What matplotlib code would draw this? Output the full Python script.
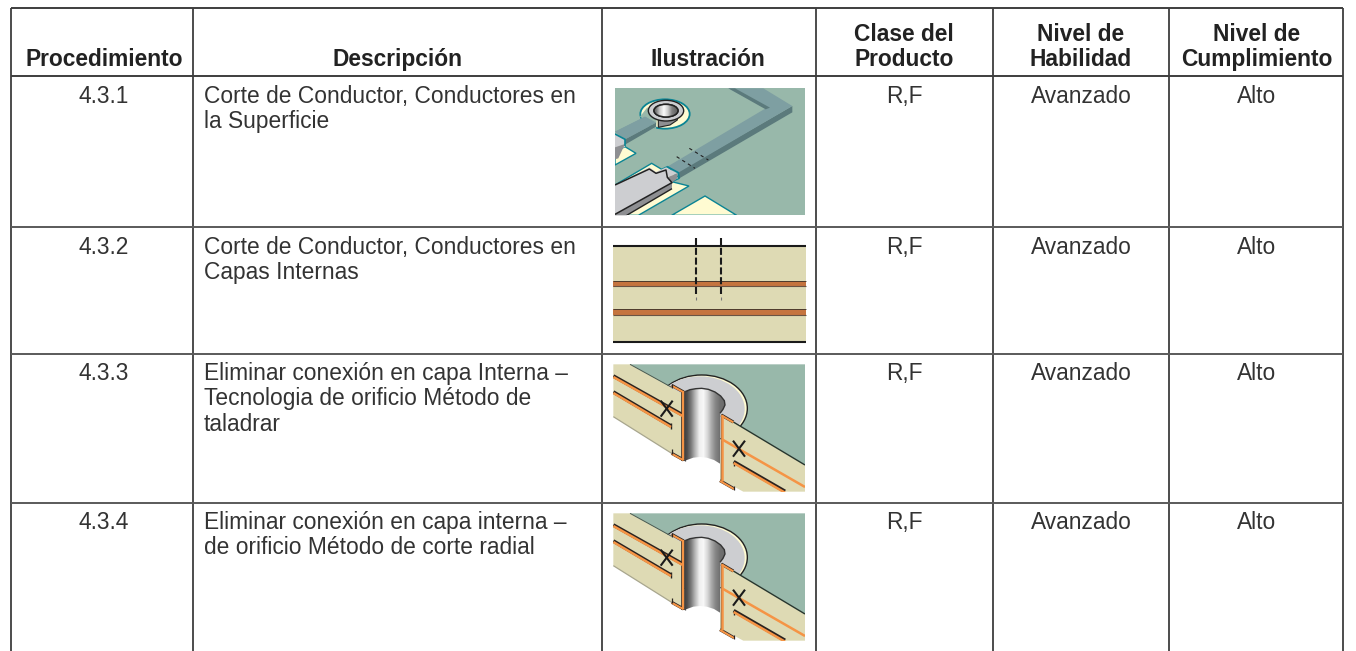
import numpy as np
import matplotlib
matplotlib.use("Agg")
import matplotlib.pyplot as plt
from matplotlib.patches import Polygon, Ellipse, Rectangle

plt.rcParams['font.family'] = ['Liberation Sans', 'DejaVu Sans']

# ---------- table content ----------
header_single = ["Procedimiento", "Descripción", "Ilustración"]
header_double = [("Clase del", "Producto"), ("Nivel de", "Habilidad"), ("Nivel de", "Cumplimiento")]
procedures = ["4.3.1", "4.3.2", "4.3.3", "4.3.4"]
descriptions = [
    ["Corte de Conductor, Conductores en", "la Superficie"],
    ["Corte de Conductor, Conductores en", "Capas Internas"],
    ["Eliminar conexión en capa Interna –", "Tecnologia de orificio Método de", "taladrar"],
    ["Eliminar conexión en capa interna –", "de orificio Método de corte radial"],
]
product_class = ["R,F", "R,F", "R,F", "R,F"]
skill_level = ["Avanzado", "Avanzado", "Avanzado", "Avanzado"]
compliance = ["Alto", "Alto", "Alto", "Alto"]

# ---------- layout ----------
col_x = [11, 193, 601.5, 816, 993, 1169, 1343]
row_y = [8, 76, 227, 354, 503]
first_baseline = [103, 254, 380, 529]
line_step = 25.4
FS = 16.4

GREEN = '#98B8AA'; TAN = '#DEDAB4'; CREAM = '#FFFBD2'; TEAL = '#0A8494'
SLATE = '#7E9FA2'; SLATE_D = '#5B7A7C'; GREY = '#CDCED1'; GREY_D = '#8E8F92'
ORANGE = '#F59445'; COPPER = '#C5743F'; INK = '#222222'

fig = plt.figure(figsize=(13.56, 6.51), dpi=100, facecolor='white')
ax = fig.add_axes([0, 0, 1, 1])


def reset():
    ax.set_xlim(0, 1356)
    ax.set_ylim(651, 0)
    ax.axis('off')


def poly(pts, ox, oy, fc, ec='none', lw=0, clip=None, z=2):
    P = [(ox + x / 3, oy + y / 3) for x, y in pts]
    p = Polygon(P, closed=True, fc=fc, ec=ec, lw=lw, zorder=z, joinstyle='miter')
    ax.add_patch(p)
    if clip is not None:
        p.set_clip_path(clip)
    return p


def seg(pts, ox, oy, color=INK, lw=1.0, clip=None, z=3, ls='-'):
    xs = [ox + x / 3 for x, _ in pts]
    ys = [oy + y / 3 for _, y in pts]
    l, = ax.plot(xs, ys, color=color, lw=lw, zorder=z, ls=ls, solid_capstyle='butt',
                 dash_capstyle='butt')
    if clip is not None:
        l.set_clip_path(clip)
    return l


def ell(cx, cy, w, h, ox, oy, fc, ec='none', lw=0, clip=None, z=2):
    e = Ellipse((ox + cx / 3, oy + cy / 3), w / 3, h / 3, fc=fc, ec=ec, lw=lw, zorder=z)
    ax.add_patch(e)
    if clip is not None:
        e.set_clip_path(clip)
    return e


def gradient(x0, x1, y0, y1, ox, oy, stops, clip_patch, z=4):
    g = np.array(stops)[None, :]
    im = ax.imshow(g, cmap='gray', vmin=0, vmax=1, aspect='auto', interpolation='bilinear',
                   extent=(ox + x0 / 3, ox + x1 / 3, oy + y1 / 3, oy + y0 / 3), zorder=z)
    im.set_clip_path(clip_patch)
    return im


def illustration_surface(ox=590, oy=70):
    clip = Rectangle((ox + 75 / 3, oy + 55 / 3), 570 / 3, 380 / 3, transform=ax.transData)
    poly([(75, 55), (645, 55), (645, 435), (75, 435)], ox, oy, GREEN, z=2)
    # lower pads
    poly([(245, 436), (345, 378), (440, 436)], ox, oy, CREAM, TEAL, 1.0, clip, 3)
    poly([(75, 345), (185, 280), (215, 298), (232, 290), (268, 325), (245, 335), (297, 348),
          (145, 436), (75, 436)], ox, oy, CREAM, TEAL, 1.0, clip, 3)
    poly([(75, 285), (138, 250), (105, 230), (75, 245)], ox, oy, CREAM, TEAL, 1.0, clip, 3)
    # long trace
    poly([(268, 325), (265, 305), (607, 108), (607, 127)], ox, oy, SLATE_D, z=4)
    poly([(415, 55), (520, 55), (607, 108), (265, 308), (232, 290), (527, 115)], ox, oy, SLATE, z=4)
    poly([(415, 55), (435, 55), (540, 113), (527, 118)], ox, oy, SLATE_D, z=5)
    seg([(232, 290), (265, 308), (268, 325)], ox, oy, TEAL, 1.2, clip, 6)
    # grey conductor end
    poly([(75, 345), (178, 292), (198, 306), (228, 292), (262, 310), (232, 322), (246, 338),
          (75, 433)], ox, oy, GREY, z=5)
    poly([(246, 338), (246, 356), (110, 436), (75, 436), (75, 433)], ox, oy, GREY_D, z=5)
    seg([(75, 345), (178, 297), (198, 310), (228, 300), (232, 322), (246, 338), (75, 433)],
        ox, oy, INK, 1.1, clip, 6)
    seg([(246, 356), (110, 436)], ox, oy, INK, 1.0, clip, 6)
    poly([(232, 322), (262, 310), (262, 325), (246, 338)], ox, oy, GREY_D, z=5)
    # short trace to ring
    poly([(75, 185), (165, 140), (198, 158), (105, 208)], ox, oy, SLATE, z=5)
    poly([(105, 208), (198, 158), (198, 170), (105, 224)], ox, oy, SLATE_D, z=5)
    poly([(75, 192), (105, 208), (105, 230), (75, 248)], ox, oy, GREY, z=6)
    seg([(75, 192), (105, 208), (105, 228)], ox, oy, TEAL, 1.2, clip, 7)
    poly([(75, 232), (105, 222), (85, 265), (75, 268)], ox, oy, GREY_D, z=6)
    # ring
    ell(225, 132, 148, 88, ox, oy, CREAM, TEAL, 1.3, clip, 4)
    poly([(150, 140), (172, 112), (200, 150), (198, 178), (165, 150)], ox, oy, GREEN, z=4)
    poly([(75, 185), (165, 140), (198, 158), (105, 208)], ox, oy, SLATE, z=5)
    poly([(205, 135), (262, 125), (262, 150), (240, 165), (205, 172)], ox, oy, GREY_D, ec=INK, lw=0.8, z=6)
    ell(228, 122, 106, 62, ox, oy, GREY, INK, 1.0, clip, 7)
    hole = ell(228, 122, 72, 38, ox, oy, 'white', INK, 1.1, clip, 8)
    gradient(192, 264, 103, 141, ox, oy, [0.45, 0.8, 0.98, 0.8, 0.5, 0.4], hole, 9)
    ell(228, 122, 72, 38, ox, oy, 'none', INK, 1.1, clip, 10)
    # cut marks
    seg([(260, 260), (315, 295)], ox, oy, INK, 0.8, clip, 8, (0, (3, 3)))
    seg([(298, 235), (355, 270)], ox, oy, INK, 0.8, clip, 8, (0, (3, 3)))


def illustration_inner(ox=590, oy=70):
    poly([(70, 527), (648, 527), (648, 815), (70, 815)], ox, oy, TAN, z=2)
    for y0, y1 in [(632, 650), (716, 735)]:
        poly([(70, y0), (648, y0), (648, y1), (70, y1)], ox, oy, COPPER, z=3)
        seg([(70, y0), (648, y0)], ox, oy, '#3A322A', 0.6)
        seg([(70, y1 - 1), (648, y1 - 1)], ox, oy, '#6A5444', 0.8)
    seg([(70, 527), (648, 527)], ox, oy, '#1A1A1A', 1.5)
    seg([(70, 815), (648, 815)], ox, oy, '#1A1A1A', 1.5)
    for x in (318, 393):
        seg([(x, 505), (x, 672)], ox, oy, '#1A1A1A', 1.5, None, 5, (0, (3.4, 1.3)))
        seg([(x, 680), (x, 690)], ox, oy, '#777777', 0.8, None, 5)


def illustration_hole(ox, oy):
    clip = Rectangle((ox + 70 / 3, oy + 43 / 3), 575 / 3, 382 / 3, transform=ax.transData)
    poly([(120, 43), (645, 43), (645, 345), (430, 220), (280, 135)], ox, oy, GREEN, z=2)
    # annular ring on the board surface
    ell(335, 175, 274, 200, ox, oy, CREAM, INK, 1.0, clip, 3)
    ell(330, 177, 268, 196, ox, oy, GREY, 'none', 0, clip, 3)
    # boards
    poly([(70, 43), (120, 43), (283, 135), (283, 332), (245, 310), (70, 200)], ox, oy, TAN, z=4)
    poly([(393, 192), (645, 345), (645, 425), (460, 425), (432, 410), (390, 390)], ox, oy, TAN, z=4)
    seg([(430, 216), (645, 345)], ox, oy, '#26352E', 1.0, clip, 5)
    seg([(120, 43), (245, 112)], ox, oy, '#4A5A50', 0.7, clip, 5)
    seg([(70, 200), (245, 310)], ox, oy, '#A8A68E', 0.9, clip, 5)
    # barrel
    top = [(285, 125), (300, 119), (318, 116), (335, 115), (355, 118), (375, 126), (392, 138),
           (403, 152), (405, 165), (399, 178), (390, 190)]
    bottom = [(390, 341), (372, 330), (350, 323), (330, 321), (310, 323), (285, 332)]
    verts = [(ox + x / 3, oy + y / 3) for x, y in top + bottom]
    barrel = Polygon(verts, closed=True, fc='none', ec='none', transform=ax.transData, zorder=5)
    ax.add_patch(barrel)
    gradient(285, 408, 110, 345, ox, oy,
             [0.30, 0.48, 0.72, 0.93, 0.97, 0.84, 0.66, 0.52, 0.44, 0.42], barrel, 5)
    seg(top, ox, oy, '#333333', 1.0, clip, 6)
    # plated copper
    dark, o = '#2A2320', ORANGE
    for pts in ([(70, 78), (280, 196)], [(70, 126), (243, 228)], [(431, 335), (585, 424)]):
        seg(pts, ox, oy, dark, 2.6, clip, 6)
    seg([(243, 220), (243, 236)], ox, oy, dark, 1.0, clip, 7)
    seg([(431, 332), (431, 348)], ox, oy, dark, 1.0, clip, 7)
    for pts in ([(70, 81), (278, 198)], [(70, 129), (243, 231)],
                [(396, 268), (645, 411)], [(431, 339), (585, 428)]):
        seg(pts, ox, oy, o, 1.8, clip, 7)
    seg([(279, 122), (279, 333)], ox, oy, dark, 2.6, clip, 6)
    seg([(280, 124), (280, 331)], ox, oy, o, 1.6, clip, 7)
    seg([(286, 122), (286, 333)], ox, oy, '#444444', 0.9, clip, 7)
    seg([(392, 192), (392, 394)], ox, oy, '#444444', 1.0, clip, 6)
    seg([(396, 195), (396, 394)], ox, oy, o, 1.8, clip, 7)
    for pts in ([(245, 106), (281, 126)], [(245, 310), (281, 330)],
                [(394, 195), (430, 216)], [(390, 392), (432, 416)]):
        seg(pts, ox, oy, dark, 2.2, clip, 6)
        seg([(pts[0][0], pts[0][1] + 1), (pts[1][0], pts[1][1] + 1)], ox, oy, o, 1.5, clip, 7)
    seg([(245, 103), (245, 114)], ox, oy, dark, 0.9, clip, 7)
    seg([(245, 298), (245, 312)], ox, oy, dark, 0.9, clip, 7)
    seg([(432, 407), (432, 420)], ox, oy, dark, 0.9, clip, 7)
    # cut marks
    for cx, cy in ((230, 176), (447, 296)):
        seg([(cx - 18, cy - 24), (cx + 18, cy + 24)], ox, oy, '#1A1A1A', 1.5, None, 8)
        seg([(cx + 18, cy - 24), (cx - 18, cy + 24)], ox, oy, '#1A1A1A', 1.5, None, 8)


illustration_surface()
illustration_inner()
illustration_hole(590, 350)
illustration_hole(590, 499)

# ---------- grid ----------
for x in col_x:
    ax.plot([x, x], [row_y[0], 651], color='#3E3E3E', lw=1.3, zorder=10, solid_capstyle='butt')
for i, y in enumerate(row_y):
    c = '#3E3E3E' if i < 2 else '#5A5A5A'
    ax.plot([col_x[0], col_x[-1]], [y, y], color=c, lw=1.4, zorder=10, solid_capstyle='butt')

# ---------- header ----------
hdr = dict(fontsize=FS, fontweight='bold', color='#222222', ha='center', va='baseline', zorder=11)
single_cx = [104, 398, 708]
double_cx = [904, 1081, 1257]
for cx, label in zip(single_cx, header_single):
    ax.text(cx, 66, label, **hdr)
for cx, (a, b) in zip(double_cx, header_double):
    ax.text(cx, 41, a, **hdr)
    ax.text(cx, 66, b, **hdr)

# ---------- body ----------
body = dict(fontsize=FS, color='#333333', va='baseline', zorder=11)
for i, base in enumerate(first_baseline):
    ax.text(104, base, procedures[i], ha='center', **body)
    for j, line in enumerate(descriptions[i]):
        ax.text(204, base + j * line_step, line, ha='left', **body)
    ax.text(904, base, product_class[i], ha='center', **body)
    ax.text(1081, base, skill_level[i], ha='center', **body)
    ax.text(1257, base, compliance[i], ha='center', **body)

reset()
fig.savefig('out.png', dpi=100, facecolor='white')
